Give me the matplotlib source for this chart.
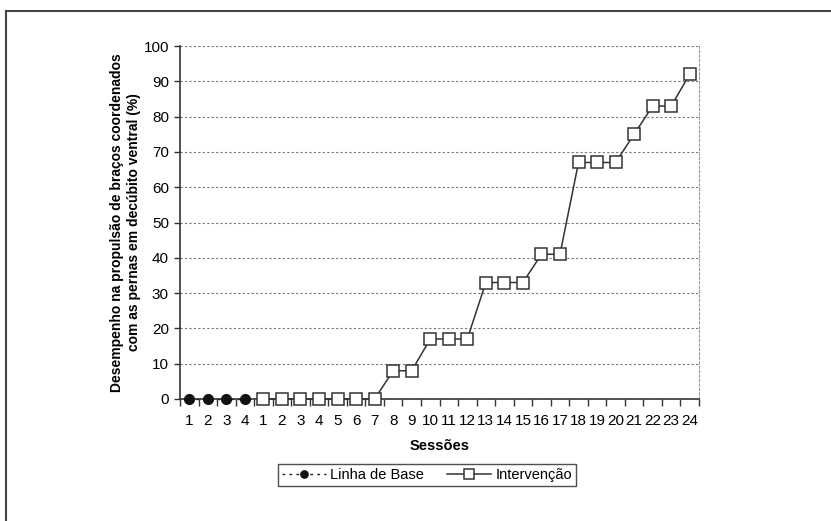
import numpy as np
import matplotlib.pyplot as plt
from matplotlib.lines import Line2D

plt.rcParams['font.family'] = ['Liberation Sans', 'DejaVu Sans']

# dados
sessoes_base = [1, 2, 3, 4]
valores_base = [0, 0, 0, 0]
sessoes_interv = list(range(1, 25))
valores_interv = [0, 0, 0, 0, 0, 0, 0, 8, 8, 17, 17, 17, 33, 33, 33,
                  41, 41, 67, 67, 67, 75, 83, 83, 92]
rotulos_x = [str(s) for s in sessoes_base] + [str(s) for s in sessoes_interv]

fig = plt.figure(figsize=(8.31, 5.21), dpi=100)
ax = fig.add_axes([180 / 831, 1 - 399 / 521, (699 - 180) / 831, (399 - 46) / 521])

pos_base = np.arange(len(sessoes_base))
pos_interv = np.arange(len(sessoes_interv)) + len(sessoes_base)

# grade horizontal pontilhada
for y in range(10, 101, 10):
    ax.axhline(y, color='#777777', lw=0.8, ls=(0, (2, 2)), zorder=1)

ax.plot(pos_base, valores_base, ls=(0, (2, 3)), color='#222222', lw=1,
        marker='o', ms=7, mfc='#111111', mec='#111111', label='Linha de Base', zorder=4,
        clip_on=False)
ax.plot(pos_interv, valores_interv, ls='-', color='#333333', lw=1.1,
        marker='s', ms=9, mfc='white', mec='#333333', mew=1.1, label='Intervenção', zorder=4,
        clip_on=False)

n = len(rotulos_x)
ax.set_xlim(-0.5, n - 0.5)
ax.set_ylim(0, 100)
ax.set_yticks(range(0, 101, 10))
ax.set_xticks(np.arange(n))
ax.set_xticklabels(rotulos_x)
ax.set_xticks(np.arange(n + 1) - 0.5, minor=True)
ax.tick_params(axis='x', which='major', length=0, pad=11, labelsize=11)
ax.tick_params(axis='x', which='minor', length=5, width=1, direction='out', color='#333333')
ax.tick_params(axis='y', length=4, width=1, direction='out', labelsize=11, color='#333333', pad=4)

ax.spines['top'].set_visible(False)
ax.spines['right'].set_color('#999999')
ax.spines['right'].set_linestyle((0, (2, 2)))
ax.spines['right'].set_linewidth(0.8)
ax.spines['left'].set_color('#333333')
ax.spines['bottom'].set_color('#333333')
ax.spines['left'].set_linewidth(1.2)
ax.spines['bottom'].set_linewidth(1.2)

ax.set_xlabel('Sessões', fontsize=10.5, fontweight='bold', labelpad=8)
ax.set_ylabel('Desempenho na propulsão de braços coordenados\ncom as pernas em decúbito ventral (%)',
              fontsize=10, fontweight='bold', labelpad=2, linespacing=1.2)

leg = ax.legend(loc='center', bbox_to_anchor=(427 / 831, 1 - 475 / 521),
                bbox_transform=fig.transFigure, ncol=2, frameon=True, fancybox=False,
                edgecolor='#222222', fontsize=10.5, handlelength=3.0, columnspacing=1.6,
                borderpad=0.3, handletextpad=0.3, markerscale=0.75)
leg.get_frame().set_linewidth(1.0)

# moldura da figura
fig.add_artist(Line2D([6 / 831, 1], [1 - 11 / 521, 1 - 11 / 521], color='#444444', lw=1.5,
                      transform=fig.transFigure))
fig.add_artist(Line2D([6 / 831, 6 / 831], [0, 1 - 11 / 521], color='#444444', lw=1.5,
                      transform=fig.transFigure))

fig.savefig('out.png', dpi=100)
